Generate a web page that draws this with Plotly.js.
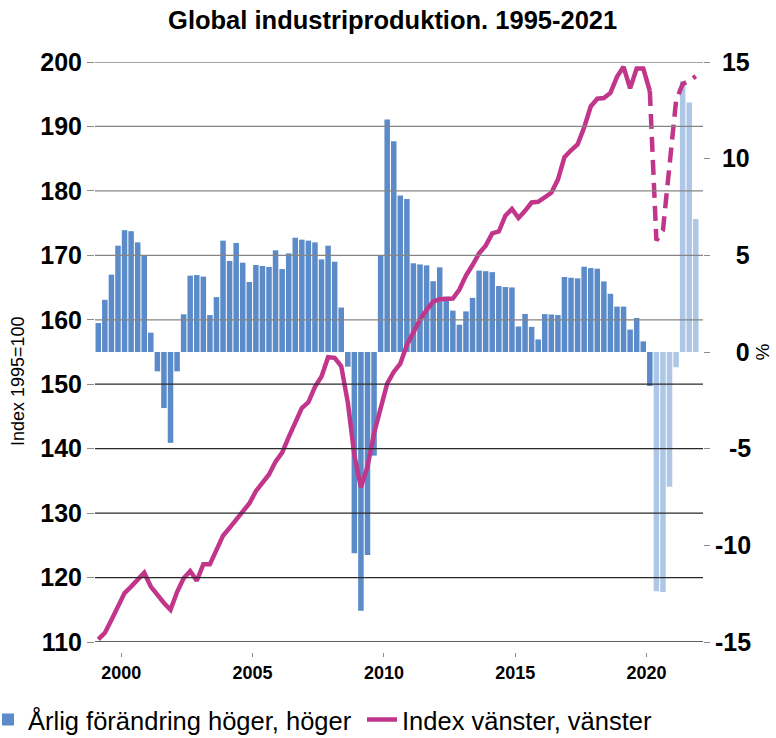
<!DOCTYPE html>
<html>
<head>
<meta charset="utf-8">
<script src="https://cdn.plot.ly/plotly-3.0.1.min.js"></script>
<style>
  html, body { margin: 0; padding: 0; background: #ffffff; }
  #chart { width: 776px; height: 738px; }
</style>
</head>
<body>
<div id="chart"></div>
<script>
// ---------------- DATA ----------------
const firstYear = 1999;
const lastYear = 2021;
const quarterNames = ['K1', 'K2', 'K3', 'K4'];

// Annual (year-on-year) change, %, right axis, one value per quarter 1999K1..2021K4
const yoyChange = [
  1.5, 2.7, 4.0, 5.5,        // 1999
  6.3, 6.25, 5.67, 5.0,      // 2000
  1.0, -1.0, -2.9, -4.7,     // 2001
  -1.0, 1.95, 3.95, 3.98,    // 2002
  3.9, 1.91, 2.84, 5.76,     // 2003
  4.71, 5.64, 4.62, 3.62,    // 2004
  4.5, 4.45, 4.4, 5.26,      // 2005
  4.29, 5.1, 5.91, 5.81,     // 2006
  5.76, 5.67, 4.79, 5.5,     // 2007
  4.67, 2.3, -0.76, -10.41,  // 2008
  -13.38, -10.5, -5.36, 4.98,// 2009
  12.03, 10.9, 8.09, 7.91,   // 2010
  4.59, 4.53, 4.48, 3.66,    // 2011
  4.38, 2.86, 2.14, 1.41,    // 2012
  2.1, 2.8, 4.21, 4.18,      // 2013
  4.13, 3.41, 3.36, 3.34,    // 2014
  1.32, 1.97, 1.3, 0.65,     // 2015
  1.96, 1.94, 1.91, 3.88,    // 2016
  3.84, 3.81, 4.41, 4.34,    // 2017
  4.31, 3.65, 3.01, 2.35,    // 2018
  2.35, 1.16, 1.76, 0.55,    // 2019
  -1.76, -12.38, -12.42, -6.97, // 2020
  -0.79, 14.0, 12.9, 6.88    // 2021
];

// Industrial production index, 1995=100, left axis
const indexLevel = [
  110.4, 111.4, 113.4, 115.5,   // 1999
  117.6, 118.6, 119.8, 120.75,  // 2000
  118.6, 117.2, 116.05, 115.0,  // 2001
  117.75, 119.9, 121.0, 119.5,  // 2002
  122.05, 122.05, 124.5, 126.5, // 2003
  127.7, 129.0, 130.2, 131.5,   // 2004
  133.4, 134.6, 136.0, 138.0,   // 2005
  139.4, 141.8, 144.1, 146.3,   // 2006
  147.2, 149.6, 151.2, 154.2,   // 2007
  154.1, 152.8, 147.2, 139.0,   // 2008
  134.0, 137.2, 142.4, 146.5,   // 2009
  150.1, 151.9, 153.2, 156.1,   // 2010
  158.15, 160.0, 161.5, 162.8,  // 2011
  163.2, 163.3, 163.3, 164.7,   // 2012
  166.85, 168.5, 170.3, 171.5,  // 2013
  173.4, 173.7, 176.15, 177.2,  // 2014
  175.8, 176.9, 178.2, 178.3,   // 2015
  179.1, 179.7, 181.75, 185.25, // 2016
  186.3, 187.2, 189.85, 193.1,  // 2017
  194.3, 194.4, 195.2, 197.7,   // 2018
  199.25, 195.9, 199.0, 199.0,  // 2019
  195.5, 172.3, 173.9, 184.1,   // 2020
  194.0, 196.6, 197.05, 197.8   // 2021
];

const lastOutcome = '2020K1';   // after this: forecast (light bars, dashed line)

const xTickYears = [2000, 2005, 2010, 2015, 2020];
const leftTicks = [110, 120, 130, 140, 150, 160, 170, 180, 190, 200];
const rightTicks = [-15, -10, -5, 0, 5, 10, 15];

const barName = 'Årlig förändring höger, höger';
const lineName = 'Index vänster, vänster';
const chartTitle = 'Global industriproduktion. 1995-2021';
const leftTitle = 'Index 1995=100';
const rightTitle = '%';

// ---------------- BUILD ----------------
const quarters = [];
const xPos = [];
for (let y = firstYear; y <= lastYear; y++) {
  quarterNames.forEach((q, i) => {
    quarters.push(y + q);
    xPos.push(y + (i + 0.5) / 4);
  });
}
const cut = quarters.indexOf(lastOutcome);

const FONT = 'Liberation Sans, Arial, Helvetica, sans-serif';
const DARK = '#5B8BC9';
const LIGHT = '#AFC7E6';
const MAGENTA = '#C1368A';

// right-align the right-axis labels with non-breaking spaces
const glyphW = ch => (ch === '-' ? 0.333 : 0.556);
const strW = s => s.split('').reduce((a, c) => a + glyphW(c), 0);
const rightRaw = rightTicks.map(v => String(v));
const maxW = Math.max(...rightRaw.map(strW));
const rightText = rightRaw.map(s => '\u00a0'.repeat(Math.round((maxW - strW(s)) / 0.278)) + s);

const traces = [
  {
    type: 'bar', name: barName, showlegend: true, legend: 'legend',
    x: xPos.slice(0, cut + 1), y: yoyChange.slice(0, cut + 1),
    marker: { color: DARK, line: { width: 0 } },
    yaxis: 'y', xaxis: 'x', hoverinfo: 'x+y'
  },
  {
    type: 'bar', name: barName + ' (prognos)', showlegend: false,
    x: xPos.slice(cut + 1), y: yoyChange.slice(cut + 1),
    marker: { color: LIGHT, line: { width: 0 } },
    yaxis: 'y', xaxis: 'x', hoverinfo: 'x+y'
  },
  {
    type: 'scatter', mode: 'lines', name: lineName, showlegend: true, legend: 'legend2',
    x: xPos.slice(0, cut + 1), y: indexLevel.slice(0, cut + 1),
    line: { color: MAGENTA, width: 4.5, shape: 'linear' },
    yaxis: 'y2', xaxis: 'x'
  },
  {
    type: 'scatter', mode: 'lines', name: lineName + ' (prognos)', showlegend: false,
    x: xPos.slice(cut), y: indexLevel.slice(cut),
    line: { color: MAGENTA, width: 4.5, dash: '15px,8px' },
    yaxis: 'y2', xaxis: 'x'
  }
];

const gridShapes = leftTicks.map(v => ({
  type: 'line', xref: 'paper', x0: 0, x1: 1, yref: 'y2', y0: v, y1: v,
  line: { color: v >= 160 ? '#858585' : '#2a2a2a', width: 1.3 },
  layer: 'above'
}));

const legendCommon = {
  orientation: 'h', xref: 'container', yref: 'container',
  xanchor: 'left', y: 1 - 720 / 738, yanchor: 'middle',
  font: { family: FONT, size: 25.5, color: '#000' },
  bgcolor: 'rgba(0,0,0,0)', borderwidth: 0, itemwidth: 30
};

const layout = {
  width: 776, height: 738,
  margin: { l: 95, r: 73, t: 62, b: 86, pad: 0 },
  paper_bgcolor: '#ffffff', plot_bgcolor: '#ffffff',
  font: { family: FONT, color: '#000000' },
  barmode: 'overlay', bargap: 0.16,
  title: {
    text: chartTitle,
    font: { family: FONT, size: 25.5, weight: 'bold', color: '#000' },
    xref: 'container', x: 0.506, xanchor: 'center',
    yref: 'container', y: 0.973, yanchor: 'middle'
  },
  xaxis: {
    range: [1999.0, 2022.15],
    tickvals: xTickYears, ticktext: xTickYears.map(String),
    ticks: 'outside', ticklen: 4, tickwidth: 1, tickcolor: '#8c8c8c',
    tickfont: { family: FONT, size: 18, weight: 'bold', color: '#000' },
    showgrid: false, zeroline: false, showline: false,
    anchor: 'free', position: 0
  },
  yaxis: {
    side: 'right', range: [-15, 15], domain: [10 / 590, 1],
    tickvals: rightTicks, ticktext: rightText,
    ticks: 'outside', ticklen: 6, tickwidth: 1, tickcolor: '#8c8c8c',
    tickfont: { family: FONT, size: 25, weight: 'bold', color: '#000' },
    showgrid: false, zeroline: false, showline: false,
    title: { text: rightTitle, font: { family: FONT, size: 19, color: '#000' }, standoff: 5 }
  },
  yaxis2: {
    overlaying: 'y', side: 'left', range: [110, 200],
    tickvals: leftTicks,
    ticks: 'outside', ticklen: 7, tickwidth: 1, tickcolor: '#8c8c8c',
    tickfont: { family: FONT, size: 25, weight: 'bold', color: '#000' },
    showgrid: false, zeroline: false, showline: false
  },
  shapes: gridShapes,
  annotations: [{
    text: leftTitle, textangle: -90, showarrow: false,
    xref: 'paper', yref: 'paper', x: (18 - 95) / 608, y: (652 - 381) / 590,
    xanchor: 'center', yanchor: 'middle',
    font: { family: FONT, size: 18, color: '#000' }
  }],
  legend: Object.assign({}, legendCommon, { x: 0, indentation: -12 }),
  legend2: Object.assign({}, legendCommon, { x: 362 / 776 }),
  showlegend: true
};

Plotly.newPlot('chart', traces, layout, { displayModeBar: false, staticPlot: true });
</script>
</body>
</html>
